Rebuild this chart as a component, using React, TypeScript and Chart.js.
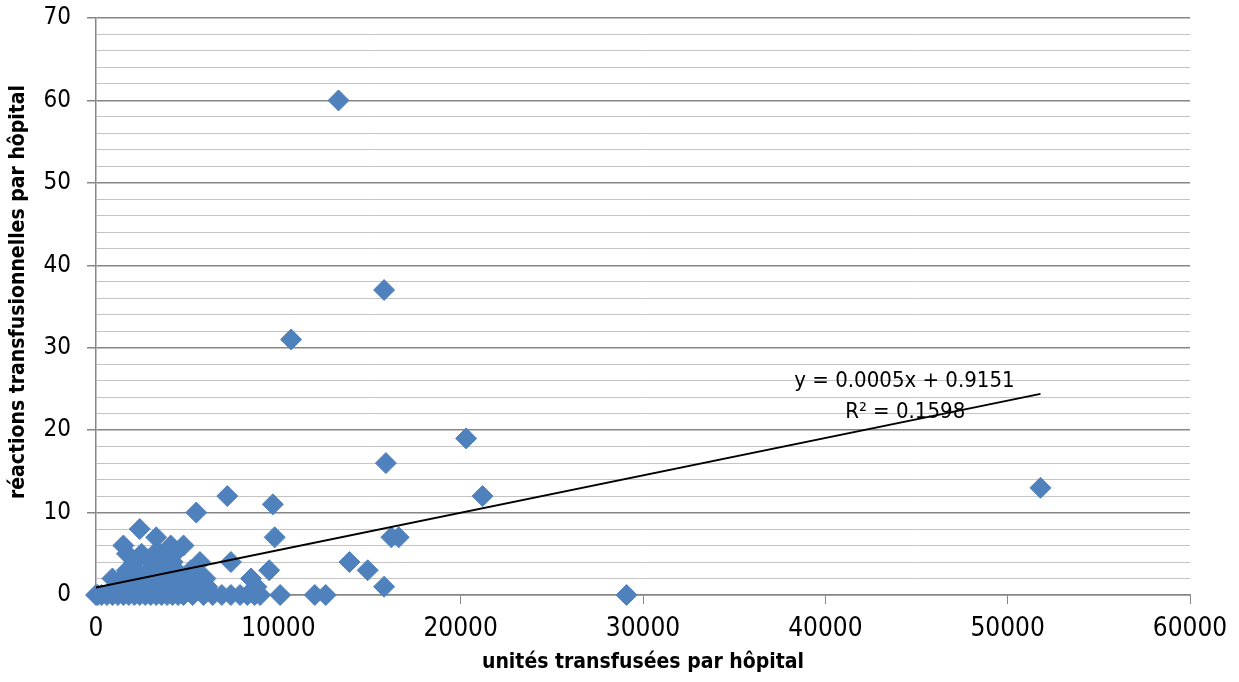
import React, { useEffect, useRef } from "react";
import { Chart, registerables } from "chart.js";

Chart.register(...registerables);

// units transfused per hospital (x) and transfusion reactions per hospital (y)
const unitsX: number[] = [
  0, 100, 300, 600, 900, 1200, 1500, 1800, 2100, 2400, 2700, 3000, 3300, 3600, 3900, 4200, 4500, 4800, 5300, 5900, 6400, 6900, 7400, 7900, 8300, 8700, 9000, 10100, 12000, 12600, 29100,
  1100, 1600, 2000, 2300, 2800, 3200, 3500, 3800, 4300, 4700, 5100, 5600, 6100, 8800, 15800,
  900, 1400, 1900, 2600, 3100, 3700, 4100, 4600, 5000, 5800, 6000, 8500,
  1700, 2200, 2900, 3400, 4000, 4400, 5200, 9500, 14900,
  2100, 3000, 3600, 4200, 5700, 7400, 13900,
  1700, 2500, 3200, 3500, 3800, 4300,
  1500, 4100, 4800,
  3300, 9800, 16200, 16600,
  2400,
  5500, 9700, 7200, 21200, 51800, 15900, 20300, 10700, 15800, 13300,
];
const reactionsY: number[] = [
  0, 0, 0, 0, 0, 0, 0, 0, 0, 0, 0, 0, 0, 0, 0, 0, 0, 0, 0, 0, 0, 0, 0, 0, 0, 0, 0, 0, 0, 0, 0,
  1, 1, 1, 1, 1, 1, 1, 1, 1, 1, 1, 1, 1, 1, 1,
  2, 2, 2, 2, 2, 2, 2, 2, 2, 2, 2, 2,
  3, 3, 3, 3, 3, 3, 3, 3, 3,
  4, 4, 4, 4, 4, 4, 4,
  5, 5, 5, 5, 5, 5,
  6, 6, 6,
  7, 7, 7, 7,
  8,
  10, 11, 12, 12, 13, 16, 19, 31, 37, 60,
];

// linear trend line endpoints
const trendX: number[] = [0, 51800];
const trendY: number[] = [0.92, 24.4];

const equationText = "y = 0.0005x + 0.9151";
const r2Text = "R² = 0.1598";
const xTitle = "unités transfusées par hôpital";
const yTitle = "réactions transfusionnelles par hôpital";

const FONT = '"Liberation Sans Narrow", "Arial Narrow", "DejaVu Sans Condensed", sans-serif';

export default function App() {
  const ref = useRef<HTMLCanvasElement | null>(null);

  useEffect(() => {
    const canvas = ref.current;
    if (!canvas) return;

    const labelPlugin = {
      id: "trendLabel",
      afterDatasetsDraw(chart: any) {
        const { ctx, scales } = chart;
        ctx.save();
        ctx.fillStyle = "#000";
        ctx.font = `22px ${FONT}`;
        ctx.textAlign = "center";
        ctx.textBaseline = "middle";
        ctx.fillText(equationText, scales.x.getPixelForValue(44340), scales.y.getPixelForValue(25.96));
        ctx.fillText(r2Text, scales.x.getPixelForValue(44380), scales.y.getPixelForValue(22.2));
        // vertical axis title
        ctx.translate(19, 292);
        ctx.rotate(-Math.PI / 2);
        ctx.font = `bold 21px ${FONT}`;
        ctx.fillText(yTitle, 0, 0);
        ctx.restore();
      },
    };

    const chart = new Chart(canvas, {
      type: "scatter",
      data: {
        datasets: [
          {
            label: "data",
            data: unitsX.map((x, i) => ({ x, y: reactionsY[i] })),
            backgroundColor: "#4F81BD",
            borderColor: "#4F81BD",
            borderWidth: 1,
            pointStyle: "rectRot",
            pointRadius: 10.5,
            clip: false,
            order: 2,
          } as any,
          {
            label: "trend",
            type: "line",
            data: trendX.map((x, i) => ({ x, y: trendY[i] })),
            borderColor: "#000000",
            borderWidth: 2,
            pointRadius: 0,
            fill: false,
            order: 1,
          } as any,
        ],
      },
      options: {
        animation: false,
        responsive: false,
        maintainAspectRatio: false,
        layout: { padding: { left: 0, right: 49, top: 18, bottom: 0 } },
        plugins: {
          legend: { display: false },
          tooltip: { enabled: false },
        },
        scales: {
          x: {
            type: "linear",
            min: 0,
            max: 60000,
            afterFit: (s: any) => {
              s.height = 87;
              s.paddingLeft = 0;
              s.paddingRight = 0;
            },
            ticks: {
              stepSize: 10000,
              color: "#000",
              font: { family: FONT, size: 26 },
              padding: 10,
              maxRotation: 0,
              callback: (v: any) => String(v),
            },
            grid: {
              drawOnChartArea: false,
              drawTicks: true,
              tickLength: 9,
              tickColor: "#868686",
            },
            border: { color: "#868686", width: 1.5 },
            title: {
              display: true,
              text: xTitle,
              color: "#000",
              font: { family: FONT, size: 21, weight: "bold" },
              padding: { top: 0, bottom: 7 },
            },
          },
          y: {
            type: "linear",
            min: 0,
            max: 70,
            afterFit: (s: any) => {
              s.width = 96;
              s.paddingTop = 0;
              s.paddingBottom = 0;
            },
            ticks: {
              stepSize: 2,
              autoSkip: false,
              color: "#000",
              font: { family: FONT, size: 24 },
              padding: 16,
              callback: (v: any) => (Number(v) % 10 === 0 ? String(v) : ""),
            },
            grid: {
              drawTicks: true,
              tickLength: 9,
              color: (c: any) => (c.tick && c.tick.value % 10 === 0 ? "#868686" : "#c4c4c4"),
              lineWidth: (c: any) => (c.tick && c.tick.value % 10 === 0 ? 1.5 : 1),
              tickColor: (c: any) => (c.tick && c.tick.value % 10 === 0 ? "#868686" : "rgba(0,0,0,0)"),
            },
            border: { color: "#868686", width: 1.5 },
          },
        },
      },
      plugins: [labelPlugin],
    });

    return () => chart.destroy();
  }, []);

  return (
    <div style={{ position: "fixed", left: 0, top: 0, width: 1239, height: 682, background: "#fff" }}>
      <canvas ref={ref} width={1239} height={682} style={{ width: 1239, height: 682, display: "block" }} />
    </div>
  );
}
